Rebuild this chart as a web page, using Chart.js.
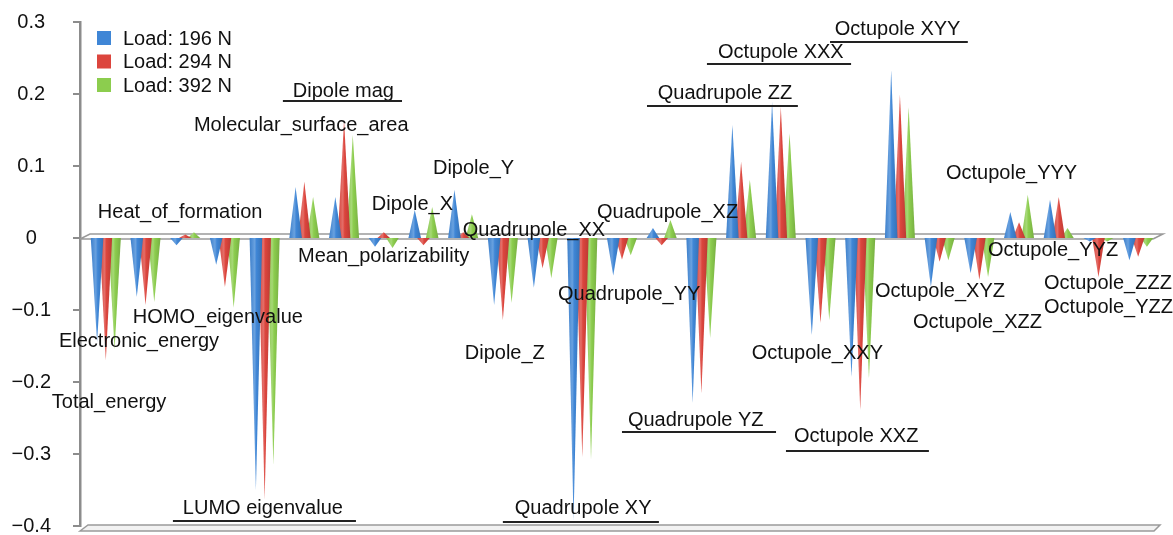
<!DOCTYPE html>
<html>
<head>
<meta charset="utf-8">
<script src="https://cdn.jsdelivr.net/npm/chart.js@4.4.1/dist/chart.umd.min.js"></script>
<style>
    html, body { margin: 0; padding: 0; background: #fff; }
    canvas { display: block; }
</style>
</head>
<body>
<canvas id="chart" width="1173" height="535"></canvas>
<script>
// Descriptor change per load, left to right
const categories = [
    'Total_energy', 'Electronic_energy', 'Heat_of_formation', 'HOMO_eigenvalue', 'LUMO_eigenvalue',
    'Dipole_mag', 'Molecular_surface_area', 'Mean_polarizability', 'Dipole_X', 'Dipole_Y',
    'Dipole_Z', 'Quadrupole_XX', 'Quadrupole_XY', 'Quadrupole_YY', 'Quadrupole_XZ',
    'Quadrupole_YZ', 'Quadrupole_ZZ', 'Octupole_XXX', 'Octupole_XXY', 'Octupole_XXZ',
    'Octupole_XYY', 'Octupole_XYZ', 'Octupole_XZZ', 'Octupole_YYY', 'Octupole_YYZ',
    'Octupole_YZZ', 'Octupole_ZZZ'
];
const load196 = [
    -0.145, -0.082, -0.010, -0.037, -0.350, 0.071, 0.057, -0.012, 0.039, 0.067,
    -0.093, -0.069, -0.392, -0.052, 0.014, -0.229, 0.157, 0.189, -0.135, -0.193,
    0.233, -0.068, -0.049, 0.036, 0.053, -0.005, -0.031
];
const load294 = [
    -0.170, -0.093, 0.005, -0.068, -0.364, 0.078, 0.164, 0.008, -0.010, 0.008,
    -0.114, -0.042, -0.304, -0.030, -0.010, -0.216, 0.106, 0.182, -0.118, -0.239,
    0.199, -0.033, -0.058, 0.022, 0.057, -0.054, -0.026
];
const load392 = [
    -0.155, -0.089, 0.008, -0.097, -0.315, 0.057, 0.143, -0.014, 0.043, 0.033,
    -0.090, -0.056, -0.308, -0.024, 0.025, -0.139, 0.081, 0.146, -0.114, -0.195,
    0.182, -0.031, -0.054, 0.060, 0.014, -0.005, -0.012
];
const seriesLabels = ['Load: 196 N', 'Load: 294 N', 'Load: 392 N'];
const seriesColors = ['#3f86d6', '#dc453d', '#8ccd4e'];

// Descriptor notes written on the plot (anchored in category index / value units)
const noteText = [
    'Heat_of_formation', 'Dipole mag', 'Molecular_surface_area', 'Electronic_energy',
    'HOMO_eigenvalue', 'Total_energy', 'LUMO eigenvalue', 'Mean_polarizability',
    'Dipole_X', 'Dipole_Y', 'Quadrupole_XX', 'Quadrupole_XZ', 'Quadrupole ZZ',
    'Octupole XXX', 'Octupole XYY', 'Octupole_YYY', 'Octupole_YYZ', 'Dipole_Z',
    'Quadrupole_YY', 'Quadrupole XY', 'Quadrupole YZ', 'Octupole_XXY', 'Octupole XXZ',
    'Octupole_XYZ', 'Octupole_XZZ', 'Octupole_ZZZ', 'Octupole_YZZ'
];
const noteX = [
    -0.20, 4.71, 2.22, -1.18, 0.68, -1.36, 1.94, 4.84, 6.70, 8.24, 8.99, 12.37, 13.90,
    15.42, 18.36, 21.16, 22.22, 9.04, 11.39, 10.30, 13.15, 16.27, 17.33, 19.37, 20.33,
    23.63, 23.63
];
const noteY = [
    0.035, 0.204, 0.156, -0.144, -0.111, -0.229, -0.375, -0.025, 0.046, 0.097, 0.011,
    0.035, 0.201, 0.257, 0.290, 0.090, -0.018, -0.160, -0.079, -0.375, -0.253, -0.161,
    -0.276, -0.074, -0.117, -0.0625, -0.096
];
// underlines: [from index, to index, value]
const underlines = [
    [4.46, 7.46, 0.190], [1.69, 6.30, -0.393], [13.63, 17.43, 0.183], [15.14, 18.77, 0.242],
    [18.24, 21.71, 0.272], [10.00, 13.93, -0.394], [13.00, 16.88, -0.269], [17.13, 20.73, -0.296]
];

const X_MIN = -0.65, X_MAX = 26.5;
const FONT = '"Liberation Sans", Arial, sans-serif';

function mix(hex, target, amt) {
    const n = parseInt(hex.slice(1), 16);
    const c = [(n >> 16) & 255, (n >> 8) & 255, n & 255].map(v => Math.round(v + (target - v) * amt));
    return `rgb(${c[0]},${c[1]},${c[2]})`;
}

const pyramids = {
    id: 'pyramids',
    beforeDatasetsDraw(chart) {
        const { ctx, chartArea: a, scales: { y } } = chart;
        const y0 = y.getPixelForValue(0);
        ctx.save();
        ctx.strokeStyle = '#9a9a9a';
        ctx.lineWidth = 1.5;
        // zero plane
        ctx.beginPath();
        ctx.moveTo(a.left, y0 + 1);
        ctx.lineTo(a.right - 5, y0 + 1);
        ctx.moveTo(a.left, y0 + 1);
        ctx.lineTo(a.left + 10, y0 - 4);
        ctx.lineTo(a.right + 5, y0 - 4);
        ctx.lineTo(a.right - 5, y0 + 1);
        ctx.stroke();
        // floor
        const yb = a.bottom;
        ctx.fillStyle = '#f2f2f2';
        ctx.beginPath();
        ctx.moveTo(a.left, yb + 5);
        ctx.lineTo(a.left + 8, yb - 1);
        ctx.lineTo(a.right + 2, yb - 1);
        ctx.lineTo(a.right - 4, yb + 5);
        ctx.closePath();
        ctx.fill();
        ctx.stroke();
        ctx.restore();
    },
    beforeDatasetDraw(chart, args) {
        const ctx = chart.ctx;
        const color = seriesColors[args.index];
        ctx.save();
        args.meta.data.forEach(bar => {
            const p = bar.getProps(['x', 'y', 'base', 'width'], true);
            const half = p.width * 0.72;
            const g = ctx.createLinearGradient(p.x - half, 0, p.x + half, 0);
            g.addColorStop(0, mix(color, 0, 0.05));
            g.addColorStop(0.4, mix(color, 255, 0.22));
            g.addColorStop(0.55, color);
            g.addColorStop(1, mix(color, 0, 0.15));
            ctx.fillStyle = g;
            ctx.beginPath();
            ctx.moveTo(p.x - half, p.base);
            ctx.lineTo(p.x, p.y);
            ctx.lineTo(p.x + half, p.base);
            ctx.closePath();
            ctx.fill();
        });
        ctx.restore();
        return false;
    },
    afterDraw(chart) {
        const { ctx, scales: { x, y } } = chart;
        ctx.save();
        ctx.font = '20px ' + FONT;
        ctx.fillStyle = '#111';
        ctx.textAlign = 'left';
        ctx.textBaseline = 'middle';
        noteText.forEach((t, i) => {
            ctx.fillText(t, x.getPixelForValue(noteX[i]), y.getPixelForValue(noteY[i]));
        });
        ctx.strokeStyle = '#222';
        ctx.lineWidth = 2;
        underlines.forEach(u => {
            const py = Math.round(y.getPixelForValue(u[2]));
            ctx.beginPath();
            ctx.moveTo(x.getPixelForValue(u[0]), py);
            ctx.lineTo(x.getPixelForValue(u[1]), py);
            ctx.stroke();
        });
        // legend
        seriesLabels.forEach((lab, i) => {
            const cy = 38 + i * 23.5;
            ctx.fillStyle = seriesColors[i];
            ctx.fillRect(97, cy - 7, 14, 14);
            ctx.fillStyle = '#111';
            ctx.fillText(lab, 123, cy + 1);
        });
        ctx.restore();
    }
};

function fmtTick(v) {
    const r = Math.round(v * 10) / 10;
    if (r === 0) return '0';
    return r < 0 ? '\u2212' + Math.abs(r).toFixed(1) : r.toFixed(1);
}

const series = [load196, load294, load392];

new Chart(document.getElementById('chart'), {
    type: 'bar',
    data: {
        datasets: series.map((vals, i) => ({
            label: seriesLabels[i],
            data: vals.map((v, k) => ({ x: k, y: v })),
            backgroundColor: seriesColors[i]
        }))
    },
    options: {
        responsive: false,
        animation: false,
        layout: { padding: { top: 22, bottom: 9, left: 0, right: 15 } },
        datasets: { bar: { categoryPercentage: 0.66, barPercentage: 1 } },
        plugins: { legend: { display: false }, tooltip: { enabled: false } },
        scales: {
            x: {
                type: 'linear',
                min: X_MIN,
                max: X_MAX,
                offset: false,
                bounds: 'data',
                display: false,
                afterDataLimits: s => { s.min = X_MIN; s.max = X_MAX; }
            },
            y: {
                min: -0.4,
                max: 0.3,
                afterFit: s => { s.width = 80; s.paddingTop = 0; s.paddingBottom = 0; },
                ticks: {
                    stepSize: 0.1,
                    crossAlign: 'center',
                    padding: 22,
                    color: '#111',
                    font: { family: FONT, size: 20 },
                    callback: fmtTick
                },
                grid: { drawOnChartArea: false, drawTicks: true, tickLength: 7, color: '#8c8c8c', lineWidth: 2 },
                border: { color: '#8c8c8c', width: 2.5 }
            }
        }
    },
    plugins: [pyramids]
});
</script>
</body>
</html>
